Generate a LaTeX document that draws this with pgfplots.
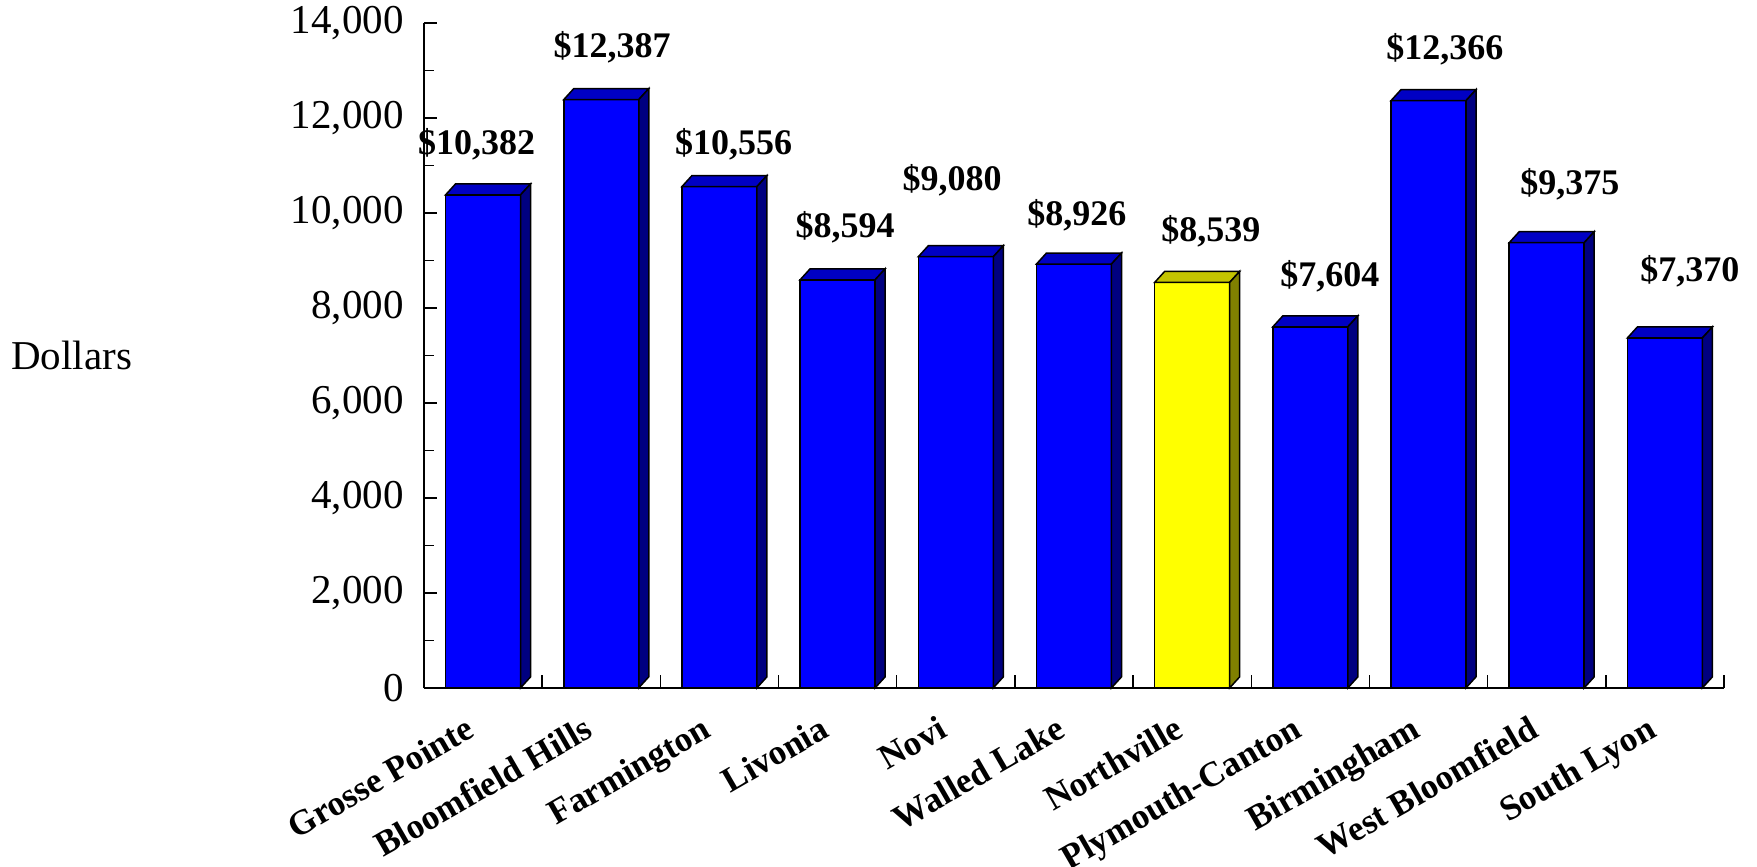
\documentclass[border=0pt]{standalone}
\usepackage{pgfplots}
\pgfplotsset{compat=1.18}
\usepackage{fontspec}
\setmainfont{Liberation Serif}

\definecolor{fblue}{RGB}{0,0,255}
\definecolor{tblue}{RGB}{0,0,196}
\definecolor{sblue}{RGB}{0,0,128}
\definecolor{fyel}{RGB}{255,255,0}
\definecolor{tyel}{RGB}{196,196,0}
\definecolor{syel}{RGB}{128,128,0}

% 3D bar drawn at the data point (top centre of the front face)
\newdimen\barH
\newcommand\barthree[3]{%
  \pgfmathsetlength{\barH}{\barval*0.02375pt}%
  \pgfsetlinewidth{0.75pt}\pgfsetstrokecolor{black}\pgfsetmiterjoin
  \pgfsetfillcolor{#1}%
  \pgfpathrectanglecorners{\pgfqpoint{-18.75pt}{-\barH}}{\pgfqpoint{18.75pt}{0pt}}%
  \pgfusepath{fill,stroke}%
  \pgfsetfillcolor{#2}%
  \pgfpathmoveto{\pgfqpoint{-18.75pt}{0pt}}%
  \pgfpathlineto{\pgfqpoint{-13.75pt}{5.5pt}}%
  \pgfpathlineto{\pgfqpoint{23.75pt}{5.5pt}}%
  \pgfpathlineto{\pgfqpoint{18.75pt}{0pt}}%
  \pgfpathclose\pgfusepath{fill,stroke}%
  \pgfsetfillcolor{#3}%
  \pgfpathmoveto{\pgfqpoint{18.75pt}{0pt}}%
  \pgfpathlineto{\pgfqpoint{23.75pt}{5.5pt}}%
  \pgfpathlineto{\pgfpoint{23.75pt}{5.5pt-\barH}}%
  \pgfpathlineto{\pgfpoint{18.75pt}{-\barH}}%
  \pgfpathclose\pgfusepath{fill,stroke}%
}
\pgfdeclareplotmark{bar3dblue}{\barthree{fblue}{tblue}{sblue}}
\pgfdeclareplotmark{bar3dyellow}{\barthree{fyel}{tyel}{syel}}

\begin{document}
\begin{tikzpicture}
\begin{axis}[
  name=ax,
  scale only axis,
  width=650pt, height=332.5pt,
  xmin=-0.5, xmax=10.5,
  ymin=0, ymax=14000,
  clip=false,
  axis on top,
  axis lines*=left,
  axis line style={line width=0.75pt},
  every tick/.style={black, line width=0.75pt},
  tick align=inside,
  major tick length=6.5pt,
  minor tick length=5pt,
  scaled y ticks=false,
  ytick={0,2000,...,14000},
  minor y tick num=1,
  /pgf/number format/.cd, 1000 sep={,}, assume math mode=true, fixed, precision=0, /pgfplots/.cd,
  yticklabel style={font=\fontsize{20.5}{24}\selectfont, inner sep=0pt, xshift=-10pt},
  xtick={-0.5,0.5,...,10.5},
  xticklabels={},
  extra x ticks={0,1,2,3,4,5,6,7,8,9,10},
  extra x tick labels={Grosse Pointe,Bloomfield Hills,Farmington,Livonia,Novi,Walled Lake,Northville,Plymouth-Canton,Birmingham,West Bloomfield,South Lyon},
  extra x tick style={major tick length=4pt,
    xticklabel style={font=\bfseries\fontsize{17.6}{21}\selectfont, inner sep=0pt,
      xshift=-9.5pt, yshift=-13pt, rotate=30, anchor=north east}},
  ylabel={Dollars},
  ylabel style={rotate=-90, at={(axis description cs:0,0.5)}, anchor=west,
    inner sep=0pt, xshift=-206.5pt, font=\fontsize{20.5}{24}\selectfont},
]
\addplot[scatter, only marks, mark=bar3dblue, visualization depends on={rawy\as\barval}]
  coordinates {(0,10382)(1,12387)(2,10556)(3,8594)(4,9080)(5,8926)(7,7604)(8,12366)(9,9375)(10,7370)};
\addplot[scatter, only marks, mark=bar3dyellow, visualization depends on={rawy\as\barval}]
  coordinates {(6,8539)};
\addplot[draw=none, mark=none, point meta=explicit,
  nodes near coords={\$\pgfmathprintnumber{\pgfplotspointmeta}},
  every node near coord/.append style={anchor=base, inner sep=0pt, font=\bfseries\fontsize{18}{21}\selectfont}]
  coordinates {
  (-0.055,11221) [10382]
  (1.091,13270) [12387]
  (2.119,11242) [10556]
  (3.063,9474) [8594]
  (3.968,10484) [9080]
  (5.025,9747) [8926]
  (6.159,9396) [8539]
  (7.166,8449) [7604]
  (8.139,13236) [12366]
  (9.196,10379) [9375]
  (10.212,8554) [7370]
  };
\end{axis}
\pgfresetboundingbox
\path ([shift={(-212pt,-89.5pt)}]ax.south west) rectangle ([shift={(16.5pt,11.5pt)}]ax.north east);
\end{tikzpicture}
\end{document}
